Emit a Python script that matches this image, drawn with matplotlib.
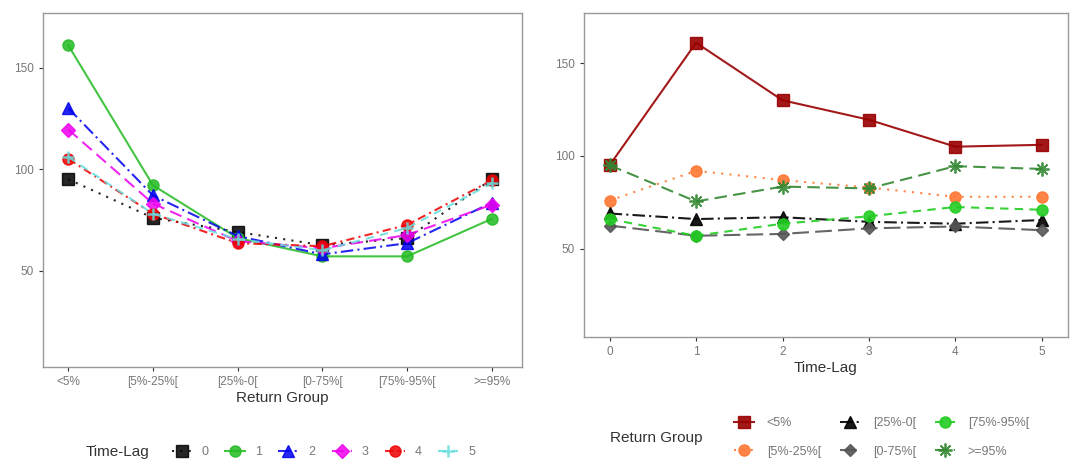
import matplotlib
matplotlib.use("Agg")
import matplotlib.pyplot as plt

plt.rcParams['font.family'] = ['Liberation Sans', 'DejaVu Sans']

groups = ['<5%', '[5%-25%[', '[25%-0[', '[0-75%[', '[75%-95%[', '>=95%']
lags = [0, 1, 2, 3, 4, 5]

lag0 = [95, 76, 69, 62.5, 66, 95]
lag1 = [161, 92, 66, 57, 57, 75.5]
lag2 = [130, 87, 67, 58, 63.5, 83.5]
lag3 = [119.5, 83, 64.5, 61, 67.5, 82.5]
lag4 = [105, 78, 63.5, 62, 72.5, 94.5]
lag5 = [106, 78, 65.5, 60, 71, 93]
lag_series = [lag0, lag1, lag2, lag3, lag4, lag5]

# left panel styles (by lag)
lag_colors = ['black', '#22bb22', '#0000ee', '#ee00ee', '#ee0000', '#66dddd']
lag_markers = ['s', 'o', '^', 'D', 'o', '+']
lag_ms = [8, 8, 8, 7, 8, 9]
lag_ls = [(0, (1, 3)), '-', (0, (6, 2, 1, 2)), (0, (6, 3)), (0, (4, 2, 1, 2)), (0, (4, 3))]

# right panel styles (by group)
grp_colors = ['#990000', '#ff7733', 'black', '#555555', '#22cc22', '#338833']
grp_markers = ['s', 'o', '^', 'D', 'o', (8, 2, 0)]
grp_ms = [8, 8, 8, 6, 8, 10]
grp_ls = ['-', (0, (1, 3)), (0, (6, 2, 1, 2)), (0, (8, 3)), (0, (4, 3)), (0, (6, 3))]

fig = plt.figure(figsize=(10.71, 4.66), dpi=100)
axL = fig.add_axes([0.040, 0.2125, 0.447, 0.76])
axR = fig.add_axes([0.545, 0.277, 0.452, 0.695])

xpos = list(range(len(groups)))
for i, vals in enumerate(lag_series):
    axL.plot(xpos, vals, color=lag_colors[i], ls=lag_ls[i], lw=1.5,
             marker=lag_markers[i], ms=lag_ms[i], mew=1.8 if lag_markers[i] == '+' else 1.0,
             alpha=0.85, label=str(lags[i]))

for j, g in enumerate(groups):
    vals = [s[j] for s in lag_series]
    axR.plot(lags, vals, color=grp_colors[j], ls=grp_ls[j], lw=1.5,
             marker=grp_markers[j], ms=grp_ms[j],
             mew=1.3 if j == 5 else 1.0, alpha=0.9, label=g)

for ax in (axL, axR):
    ax.set_ylim(2.5, 177)
    ax.set_yticks([50, 100, 150])
    for sp in ax.spines.values():
        sp.set_color('#999999')
        sp.set_linewidth(1.0)
    ax.tick_params(axis='both', colors='#333333', labelcolor='#777777',
                   labelsize=8.5, length=3, width=0.8)

axL.set_xlim(-0.3, 5.35)
axL.set_xticks(xpos)
axL.set_xticklabels(groups)
axL.set_xlabel('Return Group', fontsize=11, color='#333333', labelpad=2)

axR.set_xlim(-0.3, 5.3)
axR.set_xticks(lags)
axR.set_xlabel('Time-Lag', fontsize=11, color='#333333', labelpad=2)

# left legend
hL, lL = axL.get_legend_handles_labels()
fig.legend(hL, lL, loc='center left', bbox_to_anchor=(0.150, 0.03),
           ncol=6, frameon=False, fontsize=9, handlelength=1.6,
           columnspacing=1.3, handletextpad=0.8, labelcolor='#777777')
fig.text(0.080, 0.03, 'Time-Lag', fontsize=11, va='center', ha='left', color='#333333')

# right legend
hR, lR = axR.get_legend_handles_labels()
fig.legend(hR, lR, loc='center left', bbox_to_anchor=(0.675, 0.061),
           ncol=3, frameon=False, fontsize=9, handlelength=1.6,
           columnspacing=1.55, handletextpad=1.0, labelspacing=1.3,
           labelcolor='#777777')
fig.text(0.570, 0.061, 'Return Group', fontsize=11, va='center', ha='left', color='#333333')

fig.savefig('out.png', dpi=100)
